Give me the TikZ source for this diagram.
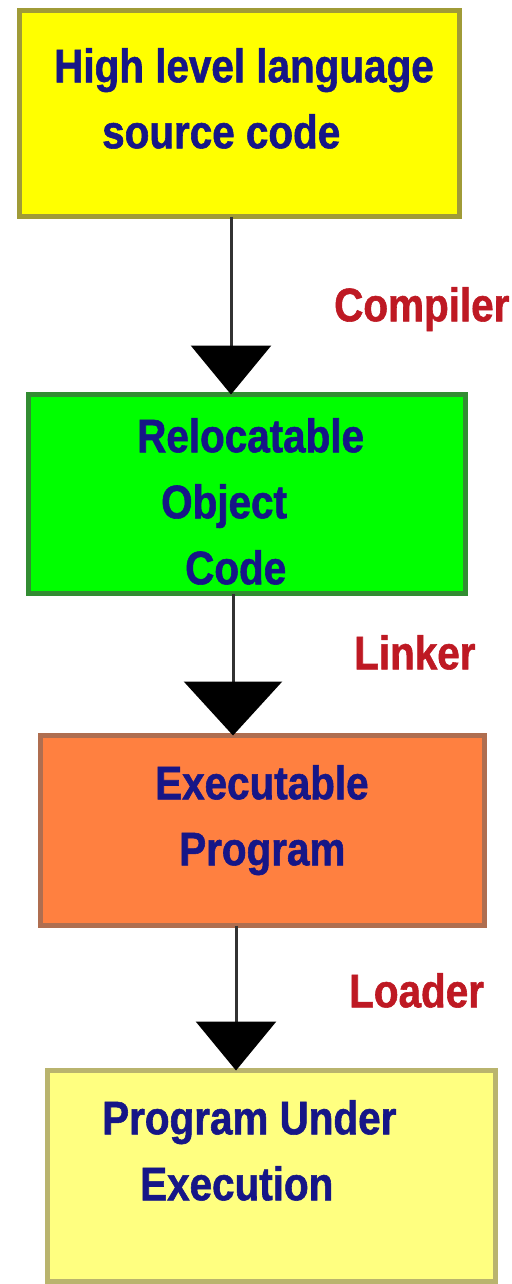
\documentclass[tikz,border=0pt]{standalone}
\usepackage{fontspec}
\setmainfont{Liberation Sans}
\newfontfamily\boxfont[FakeStretch=0.86, FakeBold=1.2]{Liberation Sans}
\usepackage{tikz}
\usetikzlibrary{arrows.meta}
\definecolor{srcfill}{RGB}{255,255,0}
\definecolor{srcline}{RGB}{160,155,55}
\definecolor{objfill}{RGB}{0,255,0}
\definecolor{objline}{RGB}{50,140,50}
\definecolor{exefill}{RGB}{255,128,64}
\definecolor{exeline}{RGB}{175,110,80}
\definecolor{runfill}{RGB}{255,255,128}
\definecolor{runline}{RGB}{185,180,110}
\definecolor{txtblue}{RGB}{22,22,135}
\definecolor{tooltext}{RGB}{190,25,35}
\definecolor{linegray}{RGB}{50,50,50}

\begin{document}
\begin{tikzpicture}[x=1pt, y=-1pt,
        box/.style={rectangle, draw, line width=5pt, outer sep=0pt},
        boxtext/.style={anchor=north west, inner sep=0pt, align=left, text=txtblue,
            font={\boxfont\bfseries\fontsize{47}{66}\selectfont}},
        tool/.style={anchor=north west, inner sep=0pt, text=tooltext,
            font={\boxfont\bfseries\fontsize{47}{66}\selectfont}},
        flow/.style={draw=linegray, line width=3pt, -{Triangle[length=49pt, width=80pt, color=black]}}]
        \useasboundingbox (0,0) rectangle (511,1284);

        % the four stages
        \node [box, fill=srcfill, draw=srcline, minimum width=440pt, minimum height=206pt] (src) at (239.5,113.5) {};
        \node [box, fill=objfill, draw=objline, minimum width=437pt, minimum height=199pt] (obj) at (247,494) {};
        \node [box, fill=exefill, draw=exeline, minimum width=444pt, minimum height=190pt] (exe) at (262.5,830.5) {};
        \node [box, fill=runfill, draw=runline, minimum width=448pt, minimum height=211pt] (run) at (271.5,1176) {};

        \node [boxtext] (srctext) at (54,48) {High level language\\\hspace*{48pt}source code};
        \node [boxtext] (objtext) at (137,418) {Relocatable\\\hspace*{24pt}Object\\\hspace*{48pt}Code};
        \node [boxtext] (exetext) at (155,765) {Executable\\\hspace*{24pt}Program};
        \node [boxtext] (runtext) at (102,1100) {Program Under\\\hspace*{38pt}Execution};

        % connectors
        \coordinate (c1) at (231,0);
        \coordinate (c2) at (233,0);
        \coordinate (c3) at (236,0);
        \draw [flow] (src.south -| c1) -- (obj.north -| c1);
        \draw [flow, -{Triangle[length=54pt, width=98pt, color=black]}] (obj.south -| c2) -- (exe.north -| c2);
        \draw [flow] (exe.south -| c3) -- (run.north -| c3);

        \node [tool] (compiler) at (334,287) {Compiler};
        \node [tool] (linker) at (354,635) {Linker};
        \node [tool] (loader) at (349,973) {Loader};
    \end{tikzpicture}
\end{document}
